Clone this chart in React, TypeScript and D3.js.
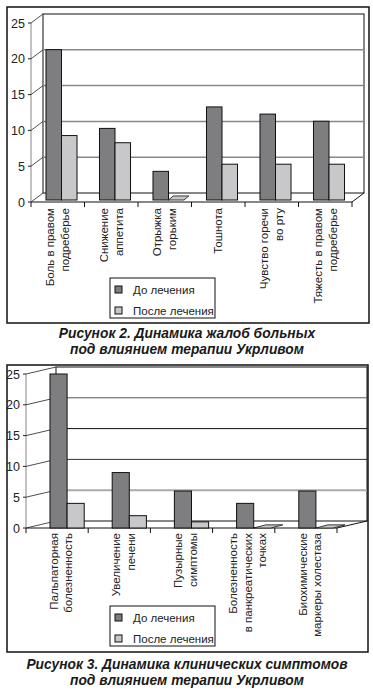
import * as d3 from 'd3'

// ---- data ----
const SERIES = ['До лечения', 'После лечения']
const Y_TICKS = [0, 5, 10, 15, 20, 25]

const COMPLAINT_LABELS = [
  ['Боль в правом', 'подреберье'],
  ['Снижение', 'аппетита'],
  ['Отрыжка', 'горьким'],
  ['Тошнота'],
  ['Чувство горечи', 'во рту'],
  ['Тяжесть в правом', 'подреберье'],
]
const COMPLAINTS_BEFORE = [21, 10, 4, 13, 12, 11]
const COMPLAINTS_AFTER = [9, 8, 0, 5, 5, 5]
const CAPTION_2 = ['Рисунок 2. Динамика жалоб больных', 'под влиянием терапии Укрливом']

const SYMPTOM_LABELS = [
  ['Пальпаторная', 'болезненность'],
  ['Увеличение', 'печени'],
  ['Пузырные', 'симптомы'],
  ['Болезненность', 'в панкреатических', 'точках'],
  ['Биохимические', 'маркеры холестаза'],
]
const SYMPTOMS_BEFORE = [25, 9, 6, 4, 6]
const SYMPTOMS_AFTER = [4, 2, 1, 0, 0]
const CAPTION_3 = ['Рисунок 3. Динамика клинических симптомов', 'под влиянием терапии Укрливом']

const COLORS = ['#7e7e80', '#c8c8ca']
const FONT = '"Liberation Sans", Arial, sans-serif'

type Layout = {
  frame: { x: number; y: number; w: number; h: number }
  axisX: number
  yZero: number
  yTop: number
  xEnd: number
  dx: number
  dy: number
  barBase: number
  barShift: number
  groupRatio: number
  labelTop: number
  labelShift: number
  legend: { x: number; y: number; w: number; h: number }
  captionY: number
  gridColors: string[]
  gridWidths: number[]
}

const LAYOUT_2: Layout = {
  frame: { x: 7, y: 7, w: 362, h: 316 },
  axisX: 31, yZero: 202, yTop: 23, xEnd: 352,
  dx: 12, dy: -9,
  barBase: 200, barShift: 3.75, groupRatio: 0.58,
  labelTop: 208, labelShift: 0,
  legend: { x: 110, y: 278, w: 105, h: 40 },
  captionY: 338,
  gridColors: ['#888', '#888', '#888', '#888'],
  gridWidths: [1.5, 1.5, 1.5, 1.5],
}

const LAYOUT_3: Layout = {
  frame: { x: 7, y: 365, w: 361, h: 287 },
  axisX: 26, yZero: 528, yTop: 374, xEnd: 337,
  dx: 30, dy: -7,
  barBase: 528, barShift: 10, groupRatio: 0.55,
  labelTop: 533, labelShift: 4,
  legend: { x: 110, y: 606, w: 105, h: 40 },
  captionY: 669,
  gridColors: ['#aaa', '#333', '#111', '#555'],
  gridWidths: [2, 1, 1, 1],
}

function Chart3D({ labels, before, after, caption, L }: {
  labels: string[][]; before: number[]; after: number[]; caption: string[]; L: Layout
}) {
  const idx = labels.map((_, i) => String(i))
  const x = d3.scaleBand().domain(idx).range([L.axisX, L.xEnd]).padding(0)
  const bw = x.bandwidth()
  const groupW = bw * L.groupRatio
  const inner = d3.scaleBand().domain(SERIES).range([0, groupW]).padding(0)
  const y = d3.scaleLinear().domain([0, 25]).range([L.yZero, L.yTop])
  const yBar = d3.scaleLinear().domain([0, 25]).range([L.barBase, L.barBase - (L.yZero - L.yTop)])
  const backL = L.axisX + L.dx
  const backR = L.xEnd + L.dx
  const values = [before, after]
  const zx = L.dx * 0.4
  const zy = L.dy * 0.45

  return (
    <g>
      <rect x={L.frame.x} y={L.frame.y} width={L.frame.w} height={L.frame.h}
        fill="white" stroke="#111" strokeWidth={1.5} />
      {/* back wall */}
      <rect x={backL} y={y(25) + L.dy} width={backR - backL} height={y(0) - y(25)}
        fill="white" stroke="#111" strokeWidth={1} />
      {Y_TICKS.filter(t => t > 0 && t < 25).map((t, i) => (
        <line key={t} x1={backL} x2={backR} y1={y(t) + L.dy} y2={y(t) + L.dy}
          stroke={L.gridColors[i]} strokeWidth={L.gridWidths[i]} />
      ))}
      {/* floor */}
      <line x1={L.axisX} x2={L.xEnd} y1={y(0)} y2={y(0)} stroke="#111" strokeWidth={1} />
      <line x1={L.xEnd} x2={backR} y1={y(0)} y2={y(0) + L.dy} stroke="#111" strokeWidth={1} />
      {/* front y axis */}
      <line x1={L.axisX} x2={L.axisX} y1={y(0)} y2={y(25)} stroke="#999" strokeWidth={1.2} />
      {Y_TICKS.map(t => (
        <g key={t}>
          <line x1={L.axisX - 3} x2={L.axisX} y1={y(t)} y2={y(t)} stroke="#222" strokeWidth={1} />
          <line x1={L.axisX} x2={backL} y1={y(t)} y2={y(t) + L.dy} stroke="#222" strokeWidth={0.8} />
          <text x={L.axisX - 6} y={y(t)} dy="0.36em" textAnchor="end"
            fontSize={12.5} fontFamily={FONT} fill="#222">{t}</text>
        </g>
      ))}
      {/* category ticks */}
      {d3.range(labels.length + 1).map(i => (
        <line key={i} x1={L.axisX + i * bw} x2={L.axisX + i * bw} y1={y(0)} y2={y(0) + 5}
          stroke="#111" strokeWidth={1} />
      ))}
      {/* bars */}
      {idx.map((c, i) => {
        const gx = (x(c) ?? 0) + (bw - groupW) / 2 + L.barShift
        return SERIES.map((s, si) => {
          const v = values[si][i]
          const bx = gx + (inner(s) ?? 0)
          const w = inner.bandwidth()
          if (v === 0) {
            const b = yBar(0)
            return (
              <polygon key={s}
                points={`${bx},${b} ${bx + w},${b} ${bx + w + zx},${b + zy} ${bx + zx},${b + zy}`}
                fill={COLORS[si]} stroke="#111" strokeWidth={0.8} />
            )
          }
          return (
            <rect key={s} x={bx} y={yBar(v)} width={w} height={yBar(0) - yBar(v)}
              fill={COLORS[si]} stroke="#111" strokeWidth={1} />
          )
        })
      })}
      {/* category labels */}
      {labels.map((lines, i) => {
        const cx = L.axisX + (i + 0.5) * bw + L.labelShift
        return (
          <text key={i} transform={`translate(${cx},${L.labelTop}) rotate(-90)`}
            textAnchor="end" fontSize={11.5} fontFamily={FONT} fill="#222">
            {lines.map((ln, li) => (
              <tspan key={li} x={0} y={(li - (lines.length - 1) / 2) * 14.7} dy="0.35em">{ln}</tspan>
            ))}
          </text>
        )
      })}
      {/* legend */}
      <rect x={L.legend.x} y={L.legend.y} width={L.legend.w} height={L.legend.h}
        fill="white" stroke="#111" strokeWidth={1} />
      {SERIES.map((s, si) => (
        <g key={s}>
          <rect x={L.legend.x + 5} y={L.legend.y + 8 + si * 21} width={7} height={7}
            fill={COLORS[si]} stroke="#111" strokeWidth={1} />
          <text x={L.legend.x + 23} y={L.legend.y + 11.5 + si * 21} dy="0.35em"
            fontSize={11.5} fontFamily={FONT} fill="#222">{s}</text>
        </g>
      ))}
      {/* caption */}
      {caption.map((ln, li) => (
        <text key={li} x={187} y={L.captionY + li * 16} textAnchor="middle"
          fontSize={13.8} fontWeight="bold" fontStyle="italic" fontFamily={FONT} fill="#1a1a1a">
          {ln}
        </text>
      ))}
    </g>
  )
}

export default function App() {
  return (
    <svg width={373} height={691} style={{ position: 'absolute', left: 0, top: 0, background: 'white' }}>
      <Chart3D labels={COMPLAINT_LABELS} before={COMPLAINTS_BEFORE} after={COMPLAINTS_AFTER}
        caption={CAPTION_2} L={LAYOUT_2} />
      <Chart3D labels={SYMPTOM_LABELS} before={SYMPTOMS_BEFORE} after={SYMPTOMS_AFTER}
        caption={CAPTION_3} L={LAYOUT_3} />
    </svg>
  )
}
